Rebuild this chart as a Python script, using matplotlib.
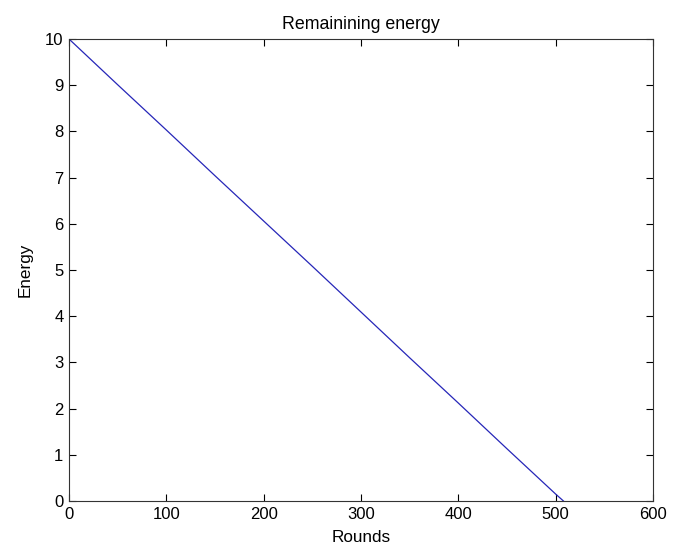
import matplotlib
matplotlib.use("Agg")
import matplotlib.pyplot as plt

plt.rcParams.update({
    "font.family": ["Liberation Sans", "DejaVu Sans"],
    "font.size": 12,
})

# values
rounds = [0, 50, 100, 150, 200, 250, 300, 350, 400, 450, 500, 508]
energy = [10.0, 9.01, 8.03, 7.04, 6.06, 5.08, 4.09, 3.10, 2.12, 1.13, 0.15, 0.0]

x_ticks = [0, 100, 200, 300, 400, 500, 600]
y_ticks = [0, 1, 2, 3, 4, 5, 6, 7, 8, 9, 10]

fig = plt.figure(figsize=(6.82, 5.48), dpi=100)
ax = fig.add_axes([69 / 682, 47 / 548, 584 / 682, 462 / 548])

ax.plot(rounds, energy, color="#2626b8", linewidth=0.9)

ax.set_xlim(0, 600)
ax.set_ylim(0, 10)
ax.set_xticks(x_ticks)
ax.set_yticks(y_ticks)
ax.tick_params(direction="in", top=True, right=True, length=5, width=0.8,
               labelsize=12, pad=4)
for s in ax.spines.values():
    s.set_linewidth(0.8)
    s.set_color("#333333")

ax.set_title("Remainining energy", fontsize=12.8, pad=7)
ax.set_xlabel("Rounds", fontsize=12.3, labelpad=6)
ax.set_ylabel("Energy", fontsize=12.3, labelpad=9)

fig.savefig("out.png", dpi=100)
